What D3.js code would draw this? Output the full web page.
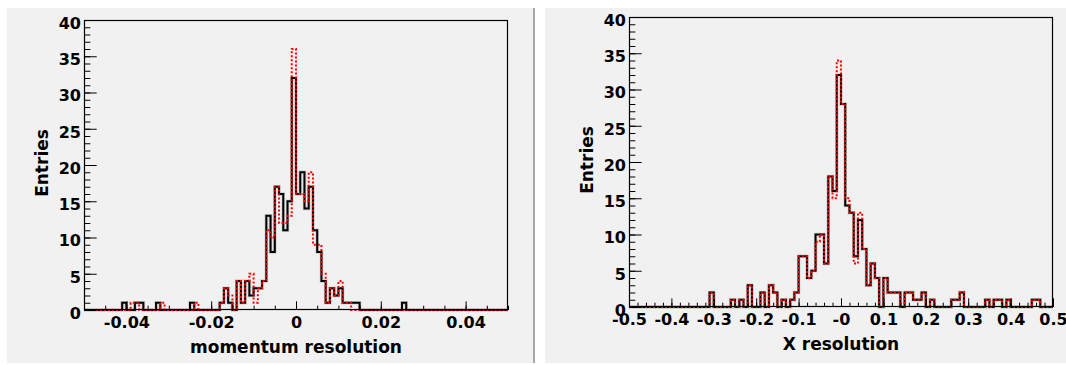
<!DOCTYPE html>
<html>
<head>
<meta charset="utf-8">
<script src="https://cdn.jsdelivr.net/npm/d3@7"></script>
<style>
  html, body { margin: 0; padding: 0; background: #fff; }
  svg { display: block; }
  text { font-family: "DejaVu Sans", sans-serif; font-weight: bold; }
</style>
</head>
<body>
<svg id="chart" width="1066" height="365"></svg>
<script>
// momentum resolution, 100 bins in [-0.05, 0.05]
const momRange = [-0.05, 0.05];
const momBlack = [
  0,0,0,0,0,0,0,0,0,1, 0,0,1,1,0,0,0,1,0,0,
  0,0,0,0,0,1,0,0,0,0, 0,0,1,3,1,0,4,1,4,2,
  3,3,4,13,8,17,16,11,15,32, 16,19,14,17,11,8,4,1,3,2,
  3,1,1,1,1,0,0,0,0,0, 0,0,0,0,0,1,0,0,0,0,
  0,0,0,0,0,0,0,0,0,0, 0,0,0,0,0,0,0,0,0,0
];
const momRed = [
  0,0,0,0,0,0,0,0,0,0, 0,1,1,0,0,0,0,0,1,0,
  0,0,0,0,0,0,1,0,0,0, 0,0,1,3,2,0,4,1,4,5,
  1,3,4,11,10,17,12,12,13,36, 16,16,15,19,9,9,5,1,3,2,
  4,1,1,0,0,0,0,0,0,0, 0,0,0,0,0,0,0,0,0,0,
  0,0,0,0,0,0,0,0,0,0, 0,0,0,0,0,0,0,0,0,0
];
const momTicks = [-0.04, -0.02, 0, 0.02, 0.04];
const momTickLabels = ["-0.04", "-0.02", "0", "0.02", "0.04"];

// X resolution, 100 bins in [-0.5, 0.5]
const xresRange = [-0.5, 0.5];
const xresBlack = [
  0,0,0,0,0,0,0,0,0,0, 0,0,0,0,0,0,0,0,0,2,
  0,0,0,0,1,0,1,0,3,0, 0,2,0,3,2,0,1,0,1,2,
  7,7,4,5,10,10,6,18,16,32, 28,14,13,7,12,8,3,6,4,0,
  4,2,2,2,0,2,2,1,1,2, 0,1,0,0,0,0,1,1,2,0,
  0,0,0,0,1,0,1,1,0,1, 0,0,0,0,0,1,1,0,0,0
];
const xresRed = [
  0,0,0,0,0,0,0,0,0,0, 0,0,0,0,0,0,0,0,0,2,
  0,0,0,0,1,0,1,0,3,0, 0,2,0,3,2,0,1,0,1,2,
  7,7,4,5,9,10,6,18,15,34, 28,15,13,6,13,8,3,6,4,0,
  4,2,2,2,0,2,2,1,1,2, 0,1,0,0,0,0,1,1,2,0,
  0,0,0,0,1,0,1,1,0,1, 0,0,0,0,0,1,1,0,0,0
];
const xresTicks = [-0.5, -0.4, -0.3, -0.2, -0.1, 0, 0.1, 0.2, 0.3, 0.4, 0.5];
const xresTickLabels = ["-0.5", "-0.4", "-0.3", "-0.2", "-0.1", "-0", "0.1", "0.2", "0.3", "0.4", "0.5"];

const yTicks = [0, 5, 10, 15, 20, 25, 30, 35, 40];
const yLabel = "Entries";

const svg = d3.select('#chart');
const padFill = '#f1f1f1';

// pads
svg.append('rect').attr('x', 7).attr('y', 8).attr('width', 526).attr('height', 355).attr('fill', padFill);
svg.append('rect').attr('x', 545).attr('y', 8).attr('width', 521).attr('height', 355).attr('fill', padFill);
svg.append('line').attr('x1', 534).attr('x2', 534).attr('y1', 8).attr('y2', 363)
  .attr('stroke', '#a8a8a8').attr('stroke-width', 2);

function drawPanel(opt) {
  const x = d3.scaleLinear().domain(opt.range).range([opt.left, opt.right]);
  const y = d3.scaleLinear().domain([0, 40]).range([opt.bottom, opt.top]);
  const g = svg.append('g');

  const bw = (opt.range[1] - opt.range[0]) / opt.black.length;
  const steps = vals => vals.map((v, i) => [opt.range[0] + i * bw, v])
    .concat([[opt.range[1], vals[vals.length - 1]]]);
  const line = d3.line().x(d => x(d[0])).y(d => y(d[1])).curve(d3.curveStepAfter);

  // black histogram with a soft halo
  g.append('path').attr('d', line(steps(opt.black)))
    .attr('fill', 'none').attr('stroke', '#888').attr('stroke-opacity', 0.35).attr('stroke-width', 3.5);
  g.append('path').attr('d', line(steps(opt.black)))
    .attr('fill', 'none').attr('stroke', '#000').attr('stroke-width', 2);
  // red dotted
  g.append('path').attr('d', line(steps(opt.red)))
    .attr('fill', 'none').attr('stroke', '#ff0000').attr('stroke-width', 2)
    .attr('stroke-dasharray', '2,2');

  // y axis: minor then major ticks, pointing inward
  g.append('g').attr('transform', `translate(${opt.left},0)`)
    .call(d3.axisLeft(y).tickValues(d3.range(0, 41, 1)).tickSize(-6.35).tickSizeOuter(0).tickFormat(''))
    .call(a => a.select('.domain').remove());
  g.append('g').attr('transform', `translate(${opt.left},0)`)
    .call(d3.axisLeft(y).tickValues(yTicks).tickSize(-12.7).tickSizeOuter(0).tickPadding(3).tickFormat(d3.format('d')))
    .call(a => a.select('.domain').remove())
    .call(a => a.selectAll('text')
      .attr('font-family', '"DejaVu Sans", sans-serif').attr('font-weight', 'bold')
      .attr('font-size', 16).attr('fill', '#000').attr('dy', '0.53em'));

  // x axis
  g.append('g').attr('transform', `translate(0,${opt.bottom})`)
    .call(d3.axisBottom(x).tickValues(opt.minor).tickSize(-4.35).tickSizeOuter(0).tickFormat(''))
    .call(a => a.select('.domain').remove());
  g.append('g').attr('transform', `translate(0,${opt.bottom})`)
    .call(d3.axisBottom(x).tickValues(opt.ticks).tickSize(-8.7).tickSizeOuter(0).tickPadding(6.6)
      .tickFormat((d, i) => opt.tickLabels[i]))
    .call(a => a.select('.domain').remove())
    .call(a => a.selectAll('text')
      .attr('font-family', '"DejaVu Sans", sans-serif').attr('font-weight', 'bold')
      .attr('font-size', 16).attr('fill', '#000'));

  // frame
  g.append('rect')
    .attr('x', opt.left + 0.5).attr('y', opt.top + 0.5)
    .attr('width', opt.right - opt.left - 1).attr('height', opt.bottom - opt.top - 1)
    .attr('fill', 'none').attr('stroke', '#000').attr('stroke-width', 1.2);

  // titles
  g.append('text')
    .attr('x', (opt.left + opt.right) / 2).attr('y', opt.bottom + 43)
    .attr('text-anchor', 'middle').attr('font-size', 17)
    .text(opt.xTitle);
  g.append('text')
    .attr('transform', `translate(${opt.left - 36},${(opt.top + opt.bottom) / 2 - 2}) rotate(-90)`)
    .attr('text-anchor', 'middle').attr('font-size', 17)
    .text(yLabel);
}

drawPanel({
  range: momRange, black: momBlack, red: momRed,
  ticks: momTicks, tickLabels: momTickLabels, minor: d3.range(-0.05, 0.0501, 0.005),
  left: 84, right: 508, top: 20, bottom: 310,
  xTitle: 'momentum resolution'
});

drawPanel({
  range: xresRange, black: xresBlack, red: xresRed,
  ticks: xresTicks, tickLabels: xresTickLabels, minor: d3.range(-0.5, 0.501, 0.02),
  left: 629, right: 1053, top: 17, bottom: 307,
  xTitle: 'X resolution'
});
</script>
</body>
</html>
